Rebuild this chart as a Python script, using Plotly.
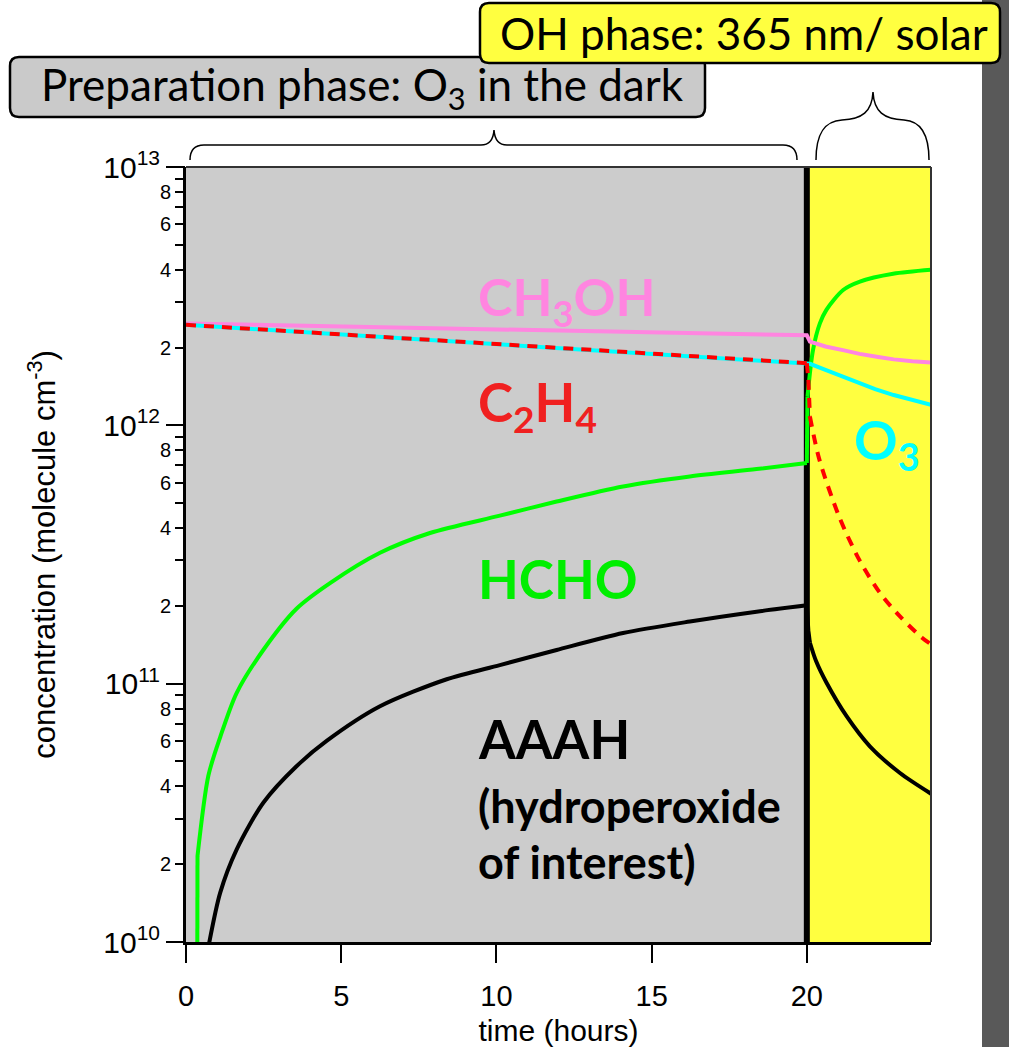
import plotly.graph_objects as go

# --- data (time in hours, concentration in molecule cm-3) ---
ch3oh_t = [0, 5, 10, 15, 20, 20.1, 20.6, 21.2, 21.7, 22.3, 22.8, 23.4, 24]
ch3oh = [2.48e12, 2.42e12, 2.35e12, 2.29e12, 2.23e12, 2.11e12, 2.02e12,
         1.95e12, 1.89e12, 1.84e12, 1.80e12, 1.77e12, 1.75e12]

o3_t = [0, 5, 10, 15, 20, 20.1, 20.6, 21.2, 21.7, 22.2, 22.8, 23.4, 24]
o3 = [2.45e12, 2.25e12, 2.07e12, 1.90e12, 1.74e12, 1.73e12, 1.64e12,
      1.54e12, 1.46e12, 1.38e12, 1.31e12, 1.25e12, 1.20e12]

c2h4_t = [0, 5, 10, 15, 20, 20.05, 20.1, 20.4, 21.05, 21.7, 22.35, 23.0, 23.7, 24]
c2h4 = [2.45e12, 2.25e12, 2.07e12, 1.90e12, 1.74e12, 1.5e12, 1.08e12,
        7.4e11, 4.4e11, 3.0e11, 2.25e11, 1.82e11, 1.51e11, 1.42e11]

hcho_t = [0.36, 0.37, 0.72, 1.1, 1.63, 2.49, 3.56, 4.64, 6.25, 7.86, 10.11,
          11.94, 14.08, 16.23, 18.38, 20.0, 20.02, 20.2, 20.42, 20.63, 21.17,
          21.71, 22.78, 24]
hcho = [5e9, 2.15e10, 4.4e10, 6.2e10, 9.2e10, 1.35e11, 1.95e11, 2.45e11,
        3.21e11, 3.83e11, 4.47e11, 5.07e11, 5.8e11, 6.34e11, 6.77e11, 7.15e11,
        1.29e12, 1.96e12, 2.48e12, 2.80e12, 3.34e12, 3.60e12, 3.86e12, 4.0e12]

aaah_t = [0.68, 1.1, 1.63, 2.49, 3.56, 4.53, 6.25, 8.4, 10.11, 11.94, 14.08,
          16.23, 18.38, 20.0, 20.05, 20.1, 20.3, 20.63, 21.28, 22.03, 23.0, 24]
aaah = [9e9, 1.55e10, 2.28e10, 3.46e10, 4.79e10, 6.0e10, 8.17e10, 1.04e11,
        1.18e11, 1.35e11, 1.57e11, 1.74e11, 1.90e11, 2.01e11, 1.6e11, 1.44e11,
        1.22e11, 1.01e11, 7.48e10, 5.72e10, 4.51e10, 3.75e10]

x_ticks = [0, 5, 10, 15, 20]
decades = [10, 11, 12, 13]
minor_mult = [2, 3, 4, 5, 6, 7, 8, 9]

AXFONT = "Liberation Sans, Arial"
LABFONT = "Lato, Calibri, sans-serif"

# page coordinates of the plot area (body margin removed below)
L, R, T, B = 186, 931, 167, 942
W, H = 1009, 1047


def px(x):
    return (x - L) / (R - L)


def py(y):
    return (B - y) / (B - T)


def P(x, y):
    return f"{px(x):.5f},{py(y):.5f}"


def rounded_box(x0, y0, x1, y1, r):
    return (f"M{P(x0 + r, y0)} L{P(x1 - r, y0)} Q{P(x1, y0)} {P(x1, y0 + r)} "
            f"L{P(x1, y1 - r)} Q{P(x1, y1)} {P(x1 - r, y1)} "
            f"L{P(x0 + r, y1)} Q{P(x0, y1)} {P(x0, y1 - r)} "
            f"L{P(x0, y0 + r)} Q{P(x0, y0)} {P(x0 + r, y0)} Z")


fig = go.Figure()


def add_curve(t, v, color, dash=None, smooth=True):
    # smooth runs, straight steps where the value jumps within a few minutes
    line = dict(color=color, width=4, dash=dash)
    runs, cur = [], [0]
    for i in range(1, len(t)):
        if t[i] - t[i - 1] <= 0.1:
            fig.add_trace(go.Scatter(x=t[i - 1:i + 1], y=v[i - 1:i + 1],
                                     mode='lines', line=line))
            runs.append(cur)
            cur = [i]
        else:
            cur.append(i)
    runs.append(cur)
    for r in runs:
        if len(r) > 1:
            shape = dict(shape='spline', smoothing=0.8) if smooth and t[r[0]] >= 20 or smooth == 'all' else {}
            fig.add_trace(go.Scatter(x=[t[i] for i in r], y=[v[i] for i in r],
                                     mode='lines', line=dict(**shape, **line)))


add_curve(aaah_t, aaah, 'black', smooth='all')
add_curve(hcho_t, hcho, '#00ff00', smooth='all')
add_curve(ch3oh_t, ch3oh, '#ff85e0')
add_curve(o3_t, o3, '#00ffff')
add_curve(c2h4_t, c2h4, '#ff0000', '10px,8px')

# carrier for the decade tick axis
fig.add_trace(go.Scatter(x=[0], y=[1e12], yaxis='y2', mode='markers',
                         marker=dict(opacity=0), hoverinfo='skip'))

minor_vals = [m * 10 ** d for d in decades[:-1] for m in minor_mult]
minor_text = [str(m) if m % 2 == 0 else '' for d in decades[:-1] for m in minor_mult]

shapes = [
    # phases
    dict(type='rect', xref='x', yref='paper', x0=0, x1=20, y0=0, y1=1,
         fillcolor='#cccccc', line_width=0, layer='below'),
    dict(type='rect', xref='x', yref='paper', x0=20, x1=24, y0=0, y1=1,
         fillcolor='#ffff40', line_width=0, layer='below'),
    dict(type='line', xref='x', yref='paper', x0=20, x1=20, y0=0, y1=1,
         line=dict(color='black', width=6), layer='below'),
    # frame top / right
    dict(type='line', xref='paper', yref='paper', x0=0, x1=1, y0=1, y1=1,
         line=dict(color='#333333', width=2)),
    dict(type='line', xref='paper', yref='paper', x0=1, x1=1, y0=0, y1=1,
         line=dict(color='#333333', width=2)),
    # dark strip on the right
    dict(type='rect', xref='paper', yref='paper', x0=px(982), x1=px(1012),
         y0=py(1050), y1=py(-3), fillcolor='#595959', line_width=0),
    # braces
    dict(type='path', xref='paper', yref='paper',
         path=(f"M{P(190, 160)} Q{P(190, 145)} {P(204, 145)} L{P(481, 145)} "
               f"Q{P(493, 145)} {P(494, 130)} Q{P(495, 145)} {P(507, 145)} "
               f"L{P(783, 145)} Q{P(797, 145)} {P(797, 160)}"),
         line=dict(color='black', width=1.5)),
    dict(type='path', xref='paper', yref='paper',
         path=(f"M{P(816, 160)} C{P(816, 134)} {P(824, 121)} {P(842, 120)} "
               f"C{P(862, 119)} {P(872, 112)} {P(873, 92)} "
               f"C{P(874, 112)} {P(884, 119)} {P(904, 120)} "
               f"C{P(921, 121)} {P(929, 134)} {P(929, 160)}"),
         line=dict(color='black', width=1.5)),
    # phase boxes
    dict(type='path', xref='paper', yref='paper',
         path=rounded_box(10, 57, 705, 117, 9),
         fillcolor='#cacaca', line=dict(color='black', width=2.5)),
    dict(type='path', xref='paper', yref='paper',
         path=rounded_box(480, 3, 1000, 63, 9),
         fillcolor='#ffff40', line=dict(color='black', width=2.5)),
]


def label(text, x, y, color, size, anchor='left'):
    return dict(text=text, xref='paper', yref='paper', x=px(x), y=py(y),
                xanchor=anchor, yanchor='middle', showarrow=False,
                font=dict(family=LABFONT, size=size, color=color))


annotations = [
    label("Preparation phase: O<sub>3</sub> in the dark", 362, 88, 'black', 44, 'center'),
    label("OH phase: 365 nm/ solar", 744, 33, 'black', 44, 'center'),
    label("<b>CH<sub>3</sub>OH</b>", 476, 300, '#ff85e0', 52),
    label("<b>C<sub>2</sub>H<sub>4</sub></b>", 476, 405, '#f02020', 53),
    label("<b>O<sub>3</sub></b>", 852, 443, '#00ffff', 54),
    label("<b>HCHO</b>", 476, 578, '#00ee00', 53),
    label("<b>AAAH</b>", 476, 738, 'black', 53),
    label("<b>(hydroperoxide</b>", 476, 806, 'black', 45),
    label("<b>of interest)</b>", 476, 862, 'black', 45),
]

fig.update_layout(
    width=W, height=H,
    margin=dict(l=L, r=W - R, t=T, b=H - B),
    paper_bgcolor='white', plot_bgcolor='white',
    showlegend=False,
    xaxis=dict(range=[0, 24], tickvals=x_ticks, ticks='outside', ticklen=18,
               tickwidth=2, tickcolor='black', showline=True, linewidth=3,
               linecolor='black', showgrid=False, zeroline=False,
               automargin=False, ticklabelstandoff=8,
               tickfont=dict(family=AXFONT, size=29, color='black'),
               title=dict(text='time (hours)', standoff=10,
                          font=dict(family=AXFONT, size=30, color='black'))),
    yaxis=dict(type='log', range=[10, 13], tickvals=minor_vals, ticktext=minor_text,
               ticks='outside', ticklen=8, tickwidth=2, tickcolor='black',
               showline=True, linewidth=3, linecolor='black', showgrid=False,
               zeroline=False, automargin=False,
               tickfont=dict(family=AXFONT, size=20, color='black')),
    yaxis2=dict(type='log', range=[10, 13], overlaying='y', side='left', anchor='x',
                tickvals=[10 ** d for d in decades],
                ticktext=[f"10<sup>{d}</sup>" for d in decades],
                ticks='outside', ticklen=19, tickwidth=2, tickcolor='black',
                showline=False, showgrid=False, zeroline=False, automargin=False,
                tickfont=dict(family=AXFONT, size=30, color='black'),
                title=dict(text='concentration (molecule cm<sup>-3</sup>)', standoff=38,
                           font=dict(family=AXFONT, size=31, color='black'))),
    shapes=shapes,
    annotations=annotations,
)

fig.write_html("out.html", config={'displayModeBar': False},
               post_script="document.body.style.margin='0';document.body.style.overflow='hidden';")
